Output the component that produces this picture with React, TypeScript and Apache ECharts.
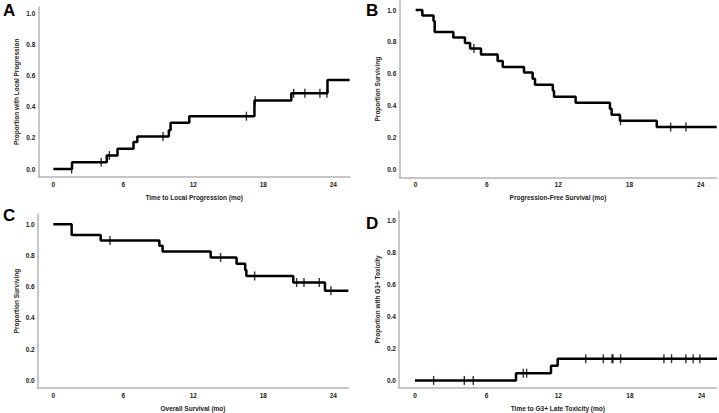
import React, { useEffect, useRef } from "react";
import * as echarts from "echarts";

// ---- Data ----
const xTicks = [0, 6, 12, 18, 24];
const yTicks = [0, 0.2, 0.4, 0.6, 0.8, 1.0];

// A: Local progression (cumulative incidence)
const aTimes = [0, 1.6, 4.58, 5.5, 6.87, 7.2, 9.9, 10.05, 11.65, 17.24, 20.4, 23.5, 25.4];
const aValues = [0, 0.043, 0.087, 0.13, 0.174, 0.209, 0.25, 0.298, 0.34, 0.44, 0.487, 0.573, 0.573];
const aCensor = [1.57, 4.1, 4.8, 9.4, 16.55, 17.3, 20.6, 21.56, 22.85, 23.45];

// B: Progression-free survival
const bTimes = [0, 0.56, 1.5, 1.6, 3.17, 4.15, 4.58, 5.5, 6.9, 7.33, 9.12, 9.85, 10.05, 11.55, 11.65, 13.47, 16.36, 16.5, 17.2, 20.3, 25.35];
const bValues = [1, 0.966, 0.931, 0.862, 0.828, 0.793, 0.759, 0.72, 0.68, 0.642, 0.607, 0.569, 0.531, 0.493, 0.455, 0.418, 0.38, 0.343, 0.305, 0.265, 0.265];
const bCensor = [4.9, 17.25, 21.47, 22.76];

// C: Overall survival
const cTimes = [0, 1.57, 4.06, 9.09, 9.37, 13.49, 15.71, 16.45, 16.55, 20.57, 23.29, 25.3];
const cValues = [1, 0.931, 0.897, 0.862, 0.826, 0.787, 0.748, 0.708, 0.669, 0.627, 0.575, 0.575];
const cCensor = [4.86, 14.34, 17.26, 20.86, 21.49, 22.8, 23.8];

// D: G3+ late toxicity (cumulative incidence)
const dTimes = [0, 8.46, 11.39, 11.95, 25.3];
const dValues = [0, 0.045, 0.091, 0.136, 0.136];
const dCensor = [1.56, 4.13, 4.88, 9.07, 9.35, 14.3, 15.77, 16.5, 16.58, 17.22, 20.85, 21.49, 22.69, 23.3, 23.86];

const panelLetters = ["A", "B", "C", "D"];
const xTitles = [
  "Time to Local Progression (mo)",
  "Progression-Free Survival (mo)",
  "Overall Survival (mo)",
  "Time to G3+ Late Toxicity (mo)",
];
const yTitles = [
  "Proportion with Local Progression",
  "Proportion Surviving",
  "Proportion Surviving",
  "Proportion with G3+ Toxicity",
];

function stepValue(times: number[], values: number[], t: number) {
  let v = values[0];
  for (let i = 0; i < times.length; i++) {
    if (times[i] <= t) v = values[i];
  }
  return v;
}

// layout: [left, top, width, height, yMin, yMax]
const layouts = [
  { left: 38.3, top: 7, width: 311.7, height: 169.7, yMin: -0.0495, yMax: 1.042, xMin: -1.29, xMax: 25.43 },
  { left: 399.3, top: 1, width: 317.4, height: 176.3, yMin: -0.05, yMax: 1.0565, xMin: -1.38, xMax: 25.35 },
  { left: 37.7, top: 214, width: 310.6, height: 174.3, yMin: -0.0486, yMax: 1.066, xMin: -1.34, xMax: 25.29 },
  { left: 399, top: 211, width: 317.7, height: 177.3, yMin: -0.0475, yMax: 1.06, xMin: -1.34, xMax: 25.27 },
];
const letterPos = [
  { x: 3, y: 2 },
  { x: 366, y: 2 },
  { x: 3, y: 207 },
  { x: 366, y: 215 },
];

export default function App() {
  const ref = useRef<HTMLDivElement>(null);
  useEffect(() => {
    if (!ref.current) return;
    const chart = echarts.init(ref.current, null, { renderer: "svg" });
    const datasets = [
      { t: aTimes, v: aValues, c: aCensor },
      { t: bTimes, v: bValues, c: bCensor },
      { t: cTimes, v: cValues, c: cCensor },
      { t: dTimes, v: dValues, c: dCensor },
    ];
    const font = "Liberation Sans, Arial, sans-serif";
    const axisLineStyle = { color: "#b4b4b4", width: 1.5 };
    const grids = layouts.map((l) => ({ left: l.left, top: l.top, width: l.width, height: l.height }));
    const xAxes = layouts.map((l, i) => ({
      type: "value",
      gridIndex: i,
      min: l.xMin,
      max: l.xMax,
      axisLine: { show: true, onZero: false, lineStyle: axisLineStyle },
      axisTick: { show: false },
      splitLine: { show: false },
      axisLabel: {
        customValues: xTicks,
        margin: 4,
        fontSize: 6.5,
        fontWeight: "bold",
        color: "#222",
        fontFamily: font,
      },
      name: xTitles[i],
      nameLocation: "middle",
      nameGap: 17,
      nameTextStyle: { fontSize: 6.5, fontWeight: "bold", color: "#222", fontFamily: font },
    }));
    const yAxes = layouts.map((l, i) => ({
      type: "value",
      gridIndex: i,
      min: l.yMin,
      max: l.yMax,
      axisLine: { show: true, onZero: false, lineStyle: axisLineStyle },
      axisTick: { show: false },
      splitLine: { show: false },
      axisLabel: {
        customValues: yTicks,
        margin: 3,
        fontSize: 6.5,
        fontWeight: "bold",
        color: "#222",
        fontFamily: font,
        formatter: (v: number) => v.toFixed(1),
      },
      name: yTitles[i],
      nameLocation: "middle",
      nameGap: 18,
      nameTextStyle: { fontSize: 6.5, fontWeight: "bold", color: "#222", fontFamily: font },
    }));
    const series: any[] = [];
    datasets.forEach((d, i) => {
      series.push({
        type: "line",
        step: "end",
        xAxisIndex: i,
        yAxisIndex: i,
        data: d.t.map((t, k) => [t, d.v[k]]),
        showSymbol: false,
        symbol: "none",
        lineStyle: { color: "#000", width: 2.5 },
        z: 2,
      });
      series.push({
        type: "scatter",
        xAxisIndex: i,
        yAxisIndex: i,
        data: d.c.map((t) => [t, stepValue(d.t, d.v, t)]),
        symbol: "rect",
        symbolSize: [1.4, 9],
        itemStyle: { color: "#000" },
        z: 3,
      });
    });
    chart.setOption({
      animation: false,
      backgroundColor: "#fff",
      grid: grids,
      xAxis: xAxes,
      yAxis: yAxes,
      series,
      graphic: panelLetters.map((s, i) => ({
        type: "text",
        left: letterPos[i].x,
        top: letterPos[i].y,
        style: { text: s, fontSize: 17, fontWeight: "bold", fill: "#000", fontFamily: font },
      })),
    });
    return () => chart.dispose();
  }, []);
  return (
    <div
      ref={ref}
      style={{ position: "absolute", left: 0, top: 0, width: 719, height: 413, background: "#fff" }}
    />
  );
}
